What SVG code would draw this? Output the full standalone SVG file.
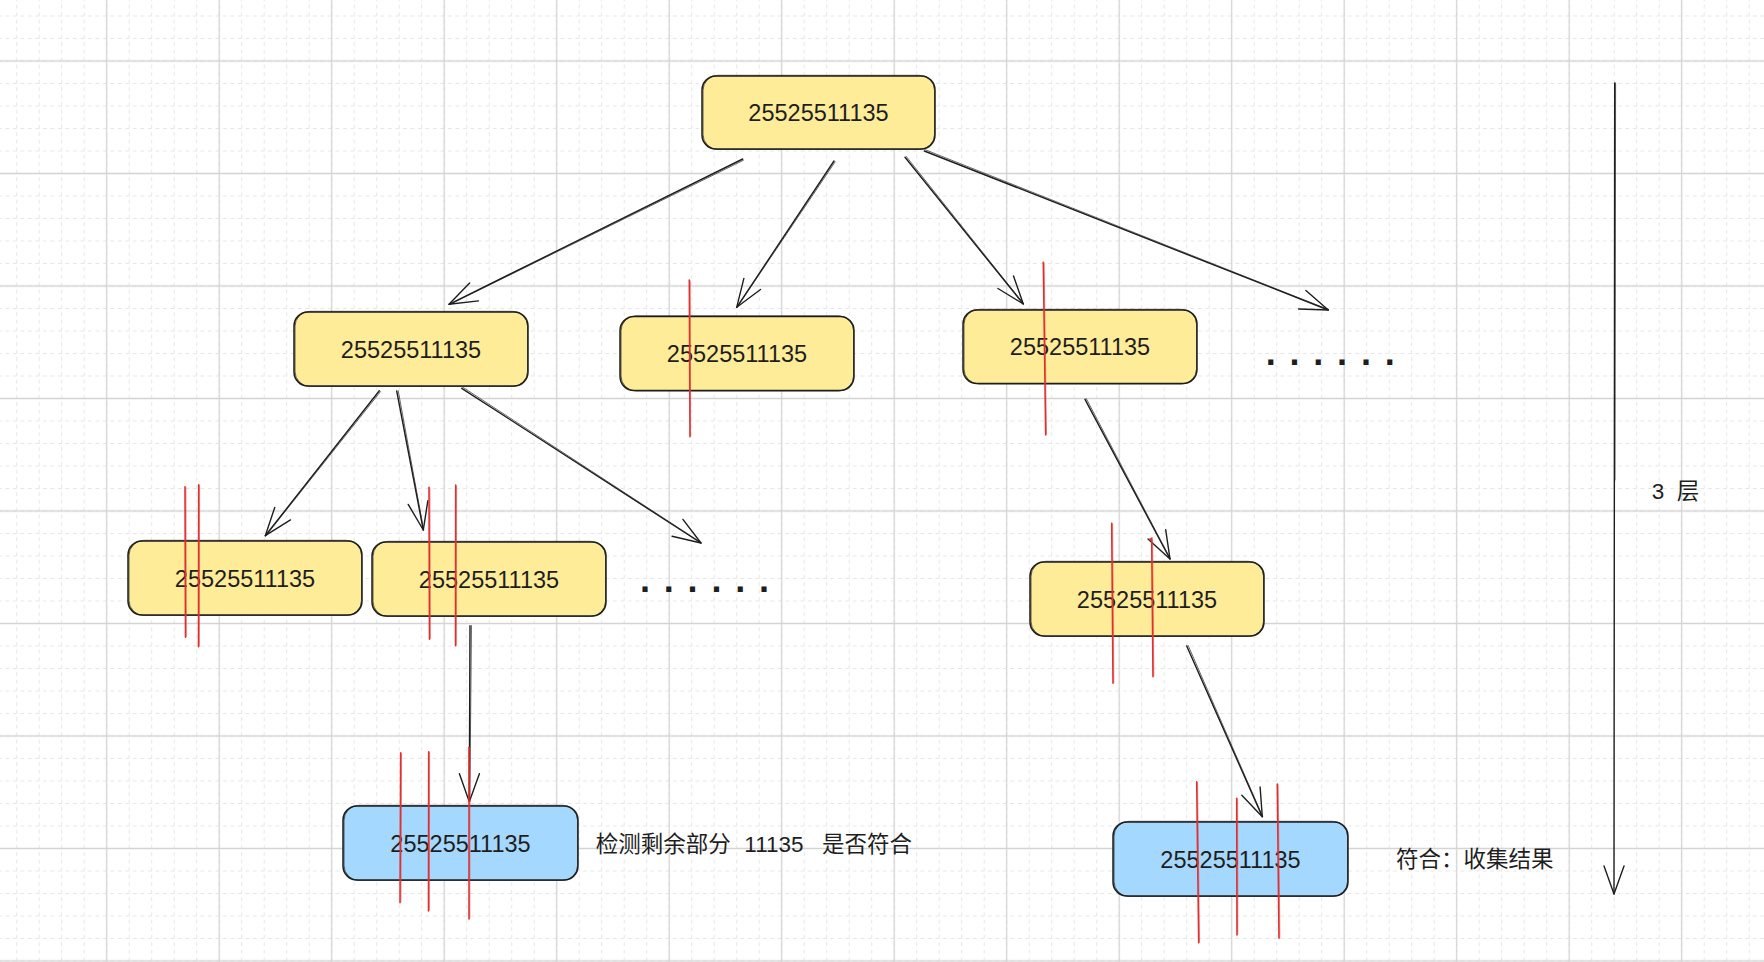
<svg xmlns="http://www.w3.org/2000/svg" width="1764" height="962" viewBox="0 0 1764 962">
<style>
.bf{stroke:none}
.yel{fill:#ffec99}
.blu{fill:#a5d8ff}
.s1{fill:none;stroke:#1e1e1e;stroke-width:1.5}
.s2{fill:none;stroke:#1e1e1e;stroke-width:1;stroke-opacity:0.7}
.lbl{font-family:"Liberation Sans","Noto Sans CJK SC",sans-serif;font-size:23.5px;fill:#1e1e1e;text-anchor:middle}
.note{font-family:"Liberation Sans","Noto Sans CJK SC",sans-serif;font-size:22.5px;fill:#1e1e1e}
.dots{font-family:"Liberation Sans",sans-serif;font-size:36px;font-weight:bold;fill:#1e1e1e;letter-spacing:13.8px}
.a1{fill:none;stroke:#1e1e1e;stroke-width:1.4;stroke-linecap:round}
.a2{fill:none;stroke:#1e1e1e;stroke-width:0.9;stroke-opacity:0.75;stroke-linecap:round}
.r1{fill:none;stroke:#e03131;stroke-width:1.6;stroke-linecap:round}
.r2{fill:none;stroke:#e03131;stroke-width:1;stroke-opacity:0.5;stroke-linecap:round}
</style>
<defs>
<pattern id="minor" width="22.5" height="22.5" patternUnits="userSpaceOnUse" x="5.45" y="4.75">
<path d="M0 11.25 H22.5 M11.25 0 V22.5" stroke="#e6e6e6" stroke-width="1" stroke-dasharray="3.75 3.75" fill="none"/>
</pattern>
<pattern id="major" width="112.5" height="112.5" patternUnits="userSpaceOnUse" x="50.45" y="4.75">
<path d="M0 56.25 H112.5 M56.25 0 V112.5" stroke="#d4d4d4" stroke-width="1.3" fill="none"/>
</pattern>
<marker id="ah" markerUnits="userSpaceOnUse" viewBox="-32 -14 34 28" markerWidth="34" markerHeight="28" refX="0" refY="0" orient="auto" overflow="visible">
<path d="M-28 -10 L0 0 L-28 10" fill="none" stroke="#1e1e1e" stroke-width="1.4" stroke-linecap="round" stroke-linejoin="round"/>
</marker>
</defs>

<g id="background">
<rect width="1764" height="962" fill="#ffffff"/>
<rect width="1764" height="962" fill="url(#minor)"/>
<rect width="1764" height="962" fill="url(#major)"/>
</g>

<g id="connectors">
<path class="a1" d="M742.7 159 L449 304.3" marker-end="url(#ah)"/>
<path class="a2" d="M743.4 160.3 L449.3 304.7"/>
<path class="a1" d="M834 161 L736.7 307.3" marker-end="url(#ah)"/>
<path class="a2" d="M835.2 161.8 L737 307.5"/>
<path class="a1" d="M905 157.3 L1023.3 304" marker-end="url(#ah)"/>
<path class="a2" d="M906.2 156.4 L1023.6 303.7"/>
<path class="a1" d="M924.3 151 L1328.3 310" marker-end="url(#ah)"/>
<path class="a2" d="M924.9 149.6 L1328.5 309.6"/>
<path class="a1" d="M379.3 390.7 L265.3 535.7" marker-end="url(#ah)"/>
<path class="a2" d="M380.5 391.6 L265.7 536"/>
<path class="a1" d="M396.7 391 L423.3 530" marker-end="url(#ah)"/>
<path class="a2" d="M398.2 390.7 L423.7 529.9"/>
<path class="a1" d="M461.7 388.3 L701 543" marker-end="url(#ah)"/>
<path class="a2" d="M462.5 387 L701.2 542.6"/>
<path class="a1" d="M1085 399.3 L1170 559" marker-end="url(#ah)"/>
<path class="a2" d="M1086.3 398.6 L1170.4 558.8"/>
<path class="a1" d="M470 625.7 L469.3 801.7" marker-end="url(#ah)"/>
<path class="a2" d="M471.5 625.7 L469.8 801.7"/>
<path class="a1" d="M1186.7 646 L1262.3 816.7" marker-end="url(#ah)"/>
<path class="a2" d="M1188.1 645.4 L1262.7 816.5"/>
<path class="a1" d="M1614.7 83 L1614 894" marker-end="url(#ah)"/>
<path class="a2" d="M1615.6 83 L1615 480"/>
</g>

<g id="node-root">
<rect class="bf yel" x="702" y="76" width="233" height="73" rx="14"/>
<rect class="s1" x="702" y="76" width="233" height="73" rx="14"/>
<rect class="s2" x="703" y="75.3" width="231.5" height="74.2" rx="15"/>
<text class="lbl" x="818.5" y="121">25525511135</text>
</g>

<g id="node-a">
<rect class="bf yel" x="294" y="312" width="234" height="74" rx="14"/>
<rect class="s1" x="294" y="312" width="234" height="74" rx="14"/>
<rect class="s2" x="295" y="311.3" width="232.5" height="75.2" rx="15"/>
<text class="lbl" x="411" y="357.5">25525511135</text>
</g>

<g id="node-b">
<rect class="bf yel" x="620" y="316.5" width="234" height="74" rx="14"/>
<rect class="s1" x="620" y="316.5" width="234" height="74" rx="14"/>
<rect class="s2" x="621" y="315.8" width="232.5" height="75.2" rx="15"/>
<text class="lbl" x="737" y="362">25525511135</text>
</g>

<g id="node-c">
<rect class="bf yel" x="963" y="310" width="234" height="73.5" rx="14"/>
<rect class="s1" x="963" y="310" width="234" height="73.5" rx="14"/>
<rect class="s2" x="964" y="309.3" width="232.5" height="74.7" rx="15"/>
<text class="lbl" x="1080" y="355.3">25525511135</text>
</g>

<g id="dots-1">
<text class="dots" x="1265.7" y="365.2">......</text>
</g>

<g id="node-d">
<rect class="bf yel" x="128" y="541" width="234" height="74" rx="14"/>
<rect class="s1" x="128" y="541" width="234" height="74" rx="14"/>
<rect class="s2" x="129" y="540.3" width="232.5" height="75.2" rx="15"/>
<text class="lbl" x="245" y="586.5">25525511135</text>
</g>

<g id="node-e">
<rect class="bf yel" x="372" y="542" width="234" height="74" rx="14"/>
<rect class="s1" x="372" y="542" width="234" height="74" rx="14"/>
<rect class="s2" x="373" y="541.3" width="232.5" height="75.2" rx="15"/>
<text class="lbl" x="489" y="587.5">25525511135</text>
</g>

<g id="dots-2">
<text class="dots" x="640" y="592">......</text>
</g>

<g id="node-f">
<rect class="bf yel" x="1030" y="562" width="234" height="74" rx="14"/>
<rect class="s1" x="1030" y="562" width="234" height="74" rx="14"/>
<rect class="s2" x="1031" y="561.3" width="232.5" height="75.2" rx="15"/>
<text class="lbl" x="1147" y="607.5">25525511135</text>
</g>

<g id="node-g">
<rect class="bf blu" x="343" y="806" width="235" height="74" rx="14"/>
<rect class="s1" x="343" y="806" width="235" height="74" rx="14"/>
<rect class="s2" x="344" y="805.3" width="233.5" height="75.2" rx="15"/>
<text class="lbl" x="460.5" y="851.5">25525511135</text>
</g>

<g id="node-h">
<rect class="bf blu" x="1113" y="822" width="235" height="74" rx="14"/>
<rect class="s1" x="1113" y="822" width="235" height="74" rx="14"/>
<rect class="s2" x="1114" y="821.3" width="233.5" height="75.2" rx="15"/>
<text class="lbl" x="1230.5" y="867.5">25525511135</text>
</g>

<g id="strikes">
<path class="r1" d="M689.3 280 L690 436.7"/><path class="r2" d="M690.3 281 L690.6 436"/>
<path class="r1" d="M1043.3 262.3 L1045.7 435"/><path class="r2" d="M1044.2 263 L1046.5 434"/>
<path class="r1" d="M185 486.7 L185.5 637.3"/><path class="r2" d="M186 487.5 L186.4 636.5"/>
<path class="r1" d="M198.7 484.7 L198.5 646.7"/><path class="r2" d="M199.6 485.5 L199.4 646"/>
<path class="r1" d="M429 487.3 L429.5 639.3"/><path class="r2" d="M430 488 L430.4 638.5"/>
<path class="r1" d="M455.7 485 L455.5 645.7"/><path class="r2" d="M456.6 486 L456.4 645"/>
<path class="r1" d="M1111.7 523.3 L1113 683.3"/><path class="r2" d="M1112.6 524 L1113.9 682.5"/>
<path class="r1" d="M1149.5 539.5 L1151.7 538.3 L1153 676.7"/><path class="r2" d="M1152.6 539.3 L1153.9 676"/>
<path class="r1" d="M400.7 752.7 L400 902.7"/><path class="r2" d="M401.6 753.5 L401 902"/>
<path class="r1" d="M428.7 751.7 L428.5 911"/><path class="r2" d="M429.6 752.5 L429.4 910.2"/>
<path class="r1" d="M469 747.3 L469 919"/><path class="r2" d="M470 748 L469.9 918.2"/>
<path class="r1" d="M1196.7 781.7 L1198.7 942.7"/><path class="r2" d="M1197.6 782.5 L1199.6 942"/>
<path class="r1" d="M1236.7 798.3 L1237 935"/><path class="r2" d="M1237.6 799 L1237.9 934.2"/>
<path class="r1" d="M1277.3 784 L1279 938.3"/><path class="r2" d="M1278.2 784.8 L1279.9 937.5"/>
</g>

<g id="note-check">
<text class="note"><tspan x="595.7" y="851.5">检测剩余部分</tspan><tspan x="744.3" y="851.5">11135</tspan><tspan x="822" y="851.5">是否符合</tspan></text>
</g>

<g id="note-collect">
<text class="note" x="1396" y="867">符合：收集结果</text>
</g>

<g id="note-levels">
<text class="note"><tspan x="1651.7" y="499">3</tspan><tspan x="1676.7" y="499">层</tspan></text>
</g>
</svg>
